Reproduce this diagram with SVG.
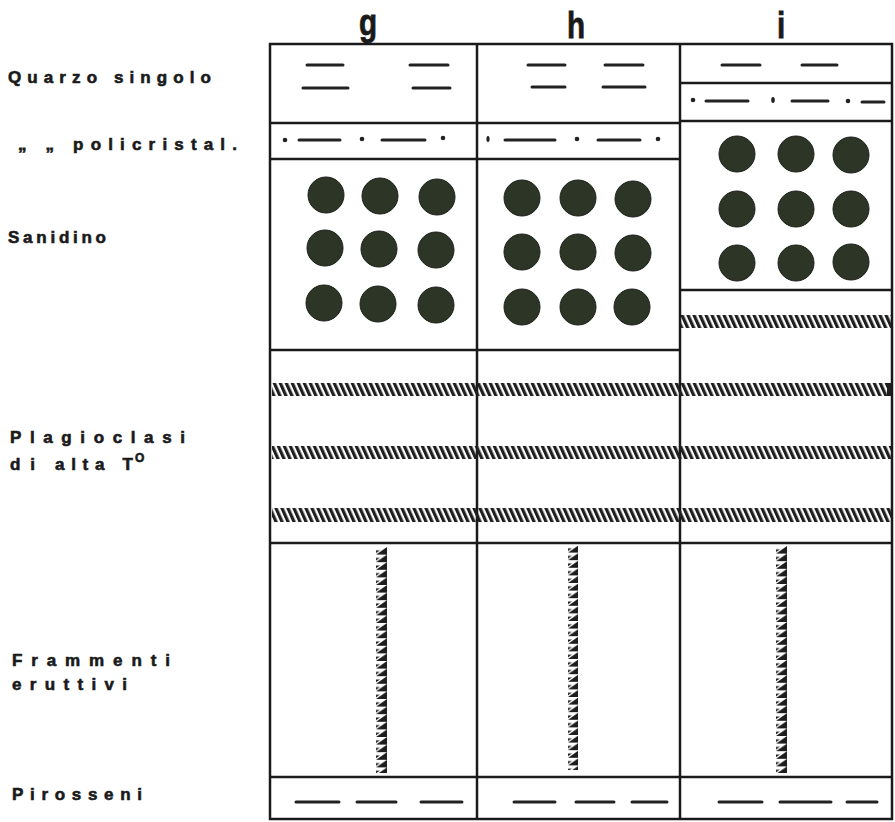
<svg xmlns="http://www.w3.org/2000/svg" width="895" height="822" viewBox="0 0 895 822">
<style>
.lab{font-family:"Liberation Sans","DejaVu Sans",sans-serif;font-weight:bold;font-size:17px;fill:#1a1a1a;stroke:#1a1a1a;stroke-width:0.6}
.hdr{font-family:"Liberation Sans","DejaVu Sans",sans-serif;font-weight:bold;font-size:37px;fill:#1a1a1a;stroke:#1a1a1a;stroke-width:0.8;text-anchor:middle}
.ln{stroke:#1a1a1a;stroke-width:2.5;fill:none}
.d{stroke:#222;stroke-width:3;stroke-linecap:round;fill:none}
.dot{fill:#222}
.c{fill:#2c3526;stroke:#1c1f1a;stroke-width:1}
.hb{fill:url(#hatchH)}
.vb{fill:url(#hatchV)}
</style>
<defs>
<pattern id="hatchH" patternUnits="userSpaceOnUse" width="6" height="30" patternTransform="skewX(24)">
<rect x="0" y="0" width="3.5" height="30" fill="#1e1e1e"/>
</pattern>
<pattern id="hatchV" patternUnits="userSpaceOnUse" width="11" height="7.6">
<polygon points="0,7.6 11,0 11,7.6" fill="#1e1e1e"/>
<polygon points="0,6 4,3.3 0,3.3" fill="#1e1e1e"/>
</pattern>
</defs>

<g id="headers">
<text class="hdr" transform="translate(368,35) scale(0.8,1)">g</text>
<text class="hdr" transform="translate(576,38) scale(0.8,1)">h</text>
<text class="hdr" transform="translate(781,38) scale(0.8,1)">i</text>
</g>

<g id="labels">
<text class="lab" x="8" y="83" textLength="203" lengthAdjust="spacing">Quarzo singolo</text>
<text class="lab" x="18" y="150" textLength="219" lengthAdjust="spacing">„ „ policristal.</text>
<text class="lab" x="8" y="243" textLength="98" lengthAdjust="spacing">Sanidino</text>
<text class="lab" x="10" y="443" textLength="175" lengthAdjust="spacing">Plagioclasi</text>
<text class="lab" x="10" y="470" textLength="25" lengthAdjust="spacing">di</text>
<text class="lab" x="55" y="470" textLength="78" lengthAdjust="spacing">alta T</text>
<text class="lab" x="135" y="462" style="font-size:12px">O</text>
<text class="lab" x="12" y="666" textLength="158" lengthAdjust="spacing">Frammenti</text>
<text class="lab" x="12" y="690" textLength="115" lengthAdjust="spacing">eruttivi</text>
<text class="lab" x="12" y="800" textLength="130" lengthAdjust="spacing">Pirosseni</text>
</g>

<g id="grid">
<rect class="ln" x="270" y="44" width="622" height="775"/>
<line class="ln" x1="477" y1="44" x2="477" y2="819"/>
<line class="ln" x1="680" y1="44" x2="680" y2="819"/>
<line class="ln" x1="270" y1="123" x2="680" y2="123"/>
<line class="ln" x1="270" y1="159" x2="680" y2="159"/>
<line class="ln" x1="270" y1="350" x2="680" y2="350"/>
<line class="ln" x1="680" y1="83" x2="892" y2="83"/>
<line class="ln" x1="680" y1="121" x2="892" y2="121"/>
<line class="ln" x1="680" y1="290" x2="892" y2="290"/>
<line class="ln" x1="270" y1="543" x2="892" y2="543"/>
<line class="ln" x1="270" y1="777" x2="892" y2="777"/>
</g>

<g id="col-g">
<line class="d" x1="307" y1="65" x2="343" y2="65"/>
<line class="d" x1="410" y1="65" x2="448" y2="65"/>
<line class="d" x1="303" y1="88" x2="348" y2="88"/>
<line class="d" x1="413" y1="88" x2="450" y2="88"/>
<circle class="dot" cx="285" cy="140" r="2.3"/>
<line class="d" x1="299" y1="140" x2="340" y2="140"/>
<circle class="dot" cx="362" cy="139" r="2.3"/>
<line class="d" x1="382" y1="140" x2="425" y2="140"/>
<circle class="dot" cx="443" cy="138" r="2.3"/>
<circle class="c" cx="326" cy="195" r="18"/>
<circle class="c" cx="380" cy="196" r="18"/>
<circle class="c" cx="437" cy="197" r="18"/>
<circle class="c" cx="325" cy="248" r="18"/>
<circle class="c" cx="379" cy="249" r="18"/>
<circle class="c" cx="436" cy="250" r="18"/>
<circle class="c" cx="324" cy="303" r="18"/>
<circle class="c" cx="378" cy="304" r="18"/>
<circle class="c" cx="436" cy="305" r="18"/>
<rect class="vb" transform="translate(376,547)" width="11" height="226"/>
<line class="d" x1="296" y1="802" x2="339" y2="802"/>
<line class="d" x1="357" y1="802" x2="396" y2="802"/>
<line class="d" x1="421" y1="802" x2="462" y2="802"/>
</g>

<g id="col-h">
<line class="d" x1="528" y1="65" x2="565" y2="65"/>
<line class="d" x1="605" y1="65" x2="643" y2="65"/>
<line class="d" x1="532" y1="87" x2="565" y2="87"/>
<line class="d" x1="603" y1="87" x2="645" y2="87"/>
<ellipse class="dot" cx="488" cy="139" rx="1.6" ry="3"/>
<line class="d" x1="505" y1="140" x2="555" y2="140"/>
<circle class="dot" cx="577" cy="139" r="2.3"/>
<line class="d" x1="598" y1="140" x2="640" y2="140"/>
<circle class="dot" cx="658" cy="139" r="2.3"/>
<circle class="c" cx="522" cy="198" r="18"/>
<circle class="c" cx="578" cy="198" r="18"/>
<circle class="c" cx="633" cy="199" r="18"/>
<circle class="c" cx="522" cy="252" r="18"/>
<circle class="c" cx="578" cy="252" r="18"/>
<circle class="c" cx="633" cy="253" r="18"/>
<circle class="c" cx="522" cy="307" r="18"/>
<circle class="c" cx="578" cy="307" r="18"/>
<circle class="c" cx="632" cy="307" r="18"/>
<rect class="vb" transform="translate(568,545)" width="10" height="225"/>
<line class="d" x1="514" y1="802" x2="555" y2="802"/>
<line class="d" x1="576" y1="802" x2="614" y2="802"/>
<line class="d" x1="632" y1="802" x2="667" y2="802"/>
</g>

<g id="col-i">
<line class="d" x1="722" y1="65" x2="760" y2="65"/>
<line class="d" x1="802" y1="65" x2="837" y2="65"/>
<circle class="dot" cx="693" cy="100" r="2.3"/>
<line class="d" x1="706" y1="101" x2="748" y2="101"/>
<ellipse class="dot" cx="773" cy="100" rx="1.8" ry="3"/>
<line class="d" x1="792" y1="101" x2="828" y2="101"/>
<circle class="dot" cx="848" cy="101" r="2.3"/>
<line class="d" x1="862" y1="102" x2="884" y2="102"/>
<circle class="c" cx="737" cy="154" r="18"/>
<circle class="c" cx="796" cy="154" r="18"/>
<circle class="c" cx="851" cy="155" r="18"/>
<circle class="c" cx="737" cy="209" r="18"/>
<circle class="c" cx="796" cy="209" r="18"/>
<circle class="c" cx="851" cy="209" r="18"/>
<circle class="c" cx="737" cy="263" r="18"/>
<circle class="c" cx="796" cy="263" r="18"/>
<circle class="c" cx="851" cy="262" r="18"/>
<rect class="hb" x="681" y="315" width="210" height="13"/>
<rect class="vb" transform="translate(776,546)" width="11" height="227"/>
<line class="d" x1="719" y1="802" x2="762" y2="802"/>
<line class="d" x1="780" y1="802" x2="831" y2="802"/>
<line class="d" x1="847" y1="802" x2="877" y2="802"/>
</g>

<g id="plagio-bands">
<rect class="hb" x="272" y="383" width="619" height="13"/>
<rect x="887" y="383" width="4" height="13" fill="#1e1e1e"/>
<rect class="hb" x="272" y="446" width="619" height="13"/>
<rect class="hb" x="272" y="508" width="619" height="14"/>
</g>
</svg>
